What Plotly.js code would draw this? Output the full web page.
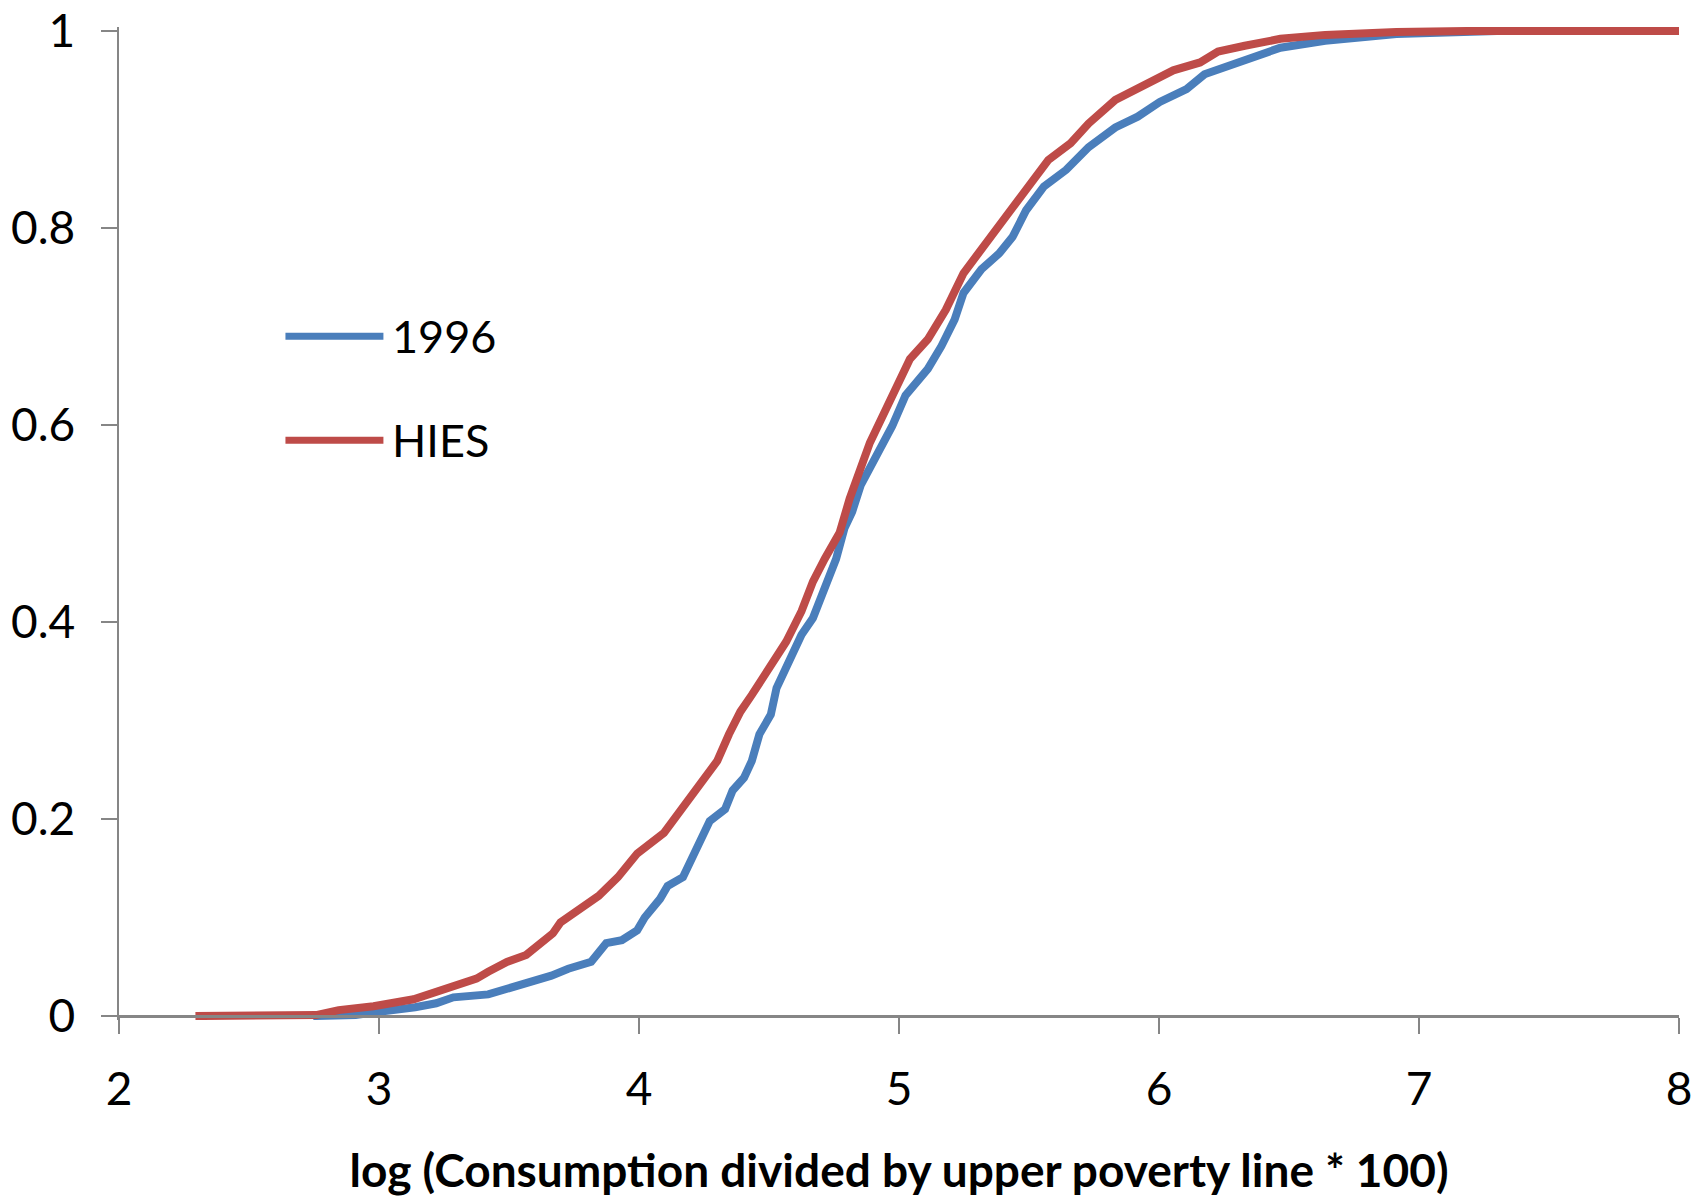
<!DOCTYPE html>
<html>
<head>
<meta charset="utf-8">
<script src="https://cdn.plot.ly/plotly-3.0.1.min.js"></script>
<style>html,body{margin:0;padding:0;background:#fff;}#chart{width:1704px;height:1197px;}</style>
</head>
<body>
<div id="chart"></div>
<script>
// Series names
const seriesNames = ["1996", "HIES"];

// 1996 survey CDF
const x1996 = [2.747, 2.91, 2.992, 3.089, 3.139, 3.22, 3.286, 3.42, 3.53, 3.581, 3.663, 3.728, 3.796, 3.816, 3.874, 3.934, 3.993, 4.022, 4.081, 4.110, 4.169, 4.198, 4.228, 4.272, 4.331, 4.360, 4.404, 4.434, 4.463, 4.507, 4.529, 4.552, 4.596, 4.625, 4.669, 4.714, 4.758, 4.79, 4.82, 4.853, 4.922, 4.974, 5.025, 5.111, 5.163, 5.214, 5.248, 5.317, 5.385, 5.437, 5.489, 5.557, 5.643, 5.729, 5.832, 5.918, 6.003, 6.106, 6.175, 6.261, 6.347, 6.467, 6.639, 6.913, 7.3, 8.0];
const y1996 = [0, 0.001, 0.004, 0.006, 0.009, 0.013, 0.019, 0.022, 0.030, 0.033, 0.041, 0.048, 0.053, 0.055, 0.074, 0.077, 0.087, 0.100, 0.119, 0.132, 0.141, 0.158, 0.175, 0.198, 0.210, 0.229, 0.242, 0.259, 0.286, 0.306, 0.333, 0.347, 0.373, 0.387, 0.404, 0.434, 0.464, 0.495, 0.512, 0.539, 0.572, 0.599, 0.630, 0.657, 0.680, 0.707, 0.734, 0.758, 0.774, 0.791, 0.818, 0.842, 0.859, 0.882, 0.902, 0.913, 0.928, 0.941, 0.956, 0.964, 0.973, 0.983, 0.990, 0.997, 1.0, 1.0];

// HIES CDF
const xHIES = [2.294, 2.5, 2.758, 2.845, 2.979, 3.133, 3.22, 3.286, 3.375, 3.42, 3.492, 3.566, 3.62, 3.669, 3.698, 3.757, 3.845, 3.919, 3.993, 4.096, 4.169, 4.228, 4.301, 4.346, 4.390, 4.434, 4.522, 4.566, 4.625, 4.669, 4.714, 4.772, 4.81, 4.888, 4.957, 5.042, 5.111, 5.180, 5.248, 5.334, 5.420, 5.506, 5.574, 5.660, 5.729, 5.832, 5.935, 6.055, 6.158, 6.227, 6.330, 6.467, 6.639, 6.913, 7.2, 8.0];
const yHIES = [0, 0, 0.001, 0.006, 0.010, 0.017, 0.025, 0.031, 0.038, 0.045, 0.055, 0.062, 0.073, 0.084, 0.095, 0.105, 0.122, 0.141, 0.165, 0.186, 0.212, 0.235, 0.259, 0.286, 0.309, 0.326, 0.363, 0.380, 0.411, 0.441, 0.464, 0.491, 0.525, 0.582, 0.620, 0.667, 0.687, 0.717, 0.754, 0.785, 0.815, 0.845, 0.869, 0.886, 0.906, 0.930, 0.943, 0.960, 0.968, 0.979, 0.985, 0.992, 0.996, 0.999, 1.0, 1.0];

// Tick values
const xTicks = [2, 3, 4, 5, 6, 7, 8];
const yTicks = [0, 0.2, 0.4, 0.6, 0.8, 1];
const yTickText = ["0", "0.2", "0.4", "0.6", "0.8", "1"];
const xTitle = "log (Consumption divided by upper poverty line * 100)";

const colors = ["#4A7EBB", "#BE4B48"];
const FONT = "Lato, 'Open Sans', sans-serif";
const pad = 0.004;

const traces = [
  {x: x1996, y: y1996, name: seriesNames[0], type: "scatter", mode: "lines",
   line: {color: colors[0], width: 8}},
  {x: xHIES, y: yHIES, name: seriesNames[1], type: "scatter", mode: "lines",
   line: {color: colors[1], width: 8}}
];

const legY = [0.6885, 0.5838];
const shapes = seriesNames.map((n, i) => ({
  type: "line", xref: "paper", yref: "paper",
  x0: 0.1067, x1: 0.1695, y0: legY[i], y1: legY[i],
  line: {color: colors[i], width: 7}
}));
const annotations = seriesNames.map((n, i) => ({
  xref: "paper", yref: "paper", x: 0.1740, y: legY[i],
  xanchor: "left", yanchor: "middle", text: n, showarrow: false,
  font: {family: FONT, size: 45, color: "#000"}
}));

const layout = {
  width: 1704, height: 1197,
  margin: {l: 118.5, r: 25, t: 26.5, b: 177.04},
  paper_bgcolor: "#fff", plot_bgcolor: "#fff",
  showlegend: false,
  font: {family: FONT, color: "#000"},
  xaxis: {
    range: [2, 8], tickvals: xTicks, ticktext: xTicks.map(String),
    anchor: "free", position: pad / (1 + 2 * pad),
    showline: true, linecolor: "#868686", linewidth: 2.5,
    ticks: "outside", ticklen: 16, tickwidth: 2.5, tickcolor: "#868686",
    ticklabelstandoff: 16, ticklabeloverflow: "allow",
    showgrid: false, zeroline: false,
    tickfont: {family: FONT, size: 46, color: "#000"},
    title: {text: xTitle, font: {family: FONT, size: 46, color: "#000", weight: "bold"}, standoff: 40}
  },
  yaxis: {
    range: [-pad, 1 + pad], tickvals: yTicks, ticktext: yTickText,
    showline: true, linecolor: "#868686", linewidth: 2.5,
    ticks: "outside", ticklen: 16, tickwidth: 2.5, tickcolor: "#868686",
    ticklabelstandoff: 16, ticklabeloverflow: "allow",
    showgrid: false, zeroline: false,
    tickfont: {family: FONT, size: 46, color: "#000"}
  },
  shapes: shapes,
  annotations: annotations
};

Plotly.newPlot("chart", traces, layout, {displayModeBar: false, staticPlot: true});
</script>
</body>
</html>
